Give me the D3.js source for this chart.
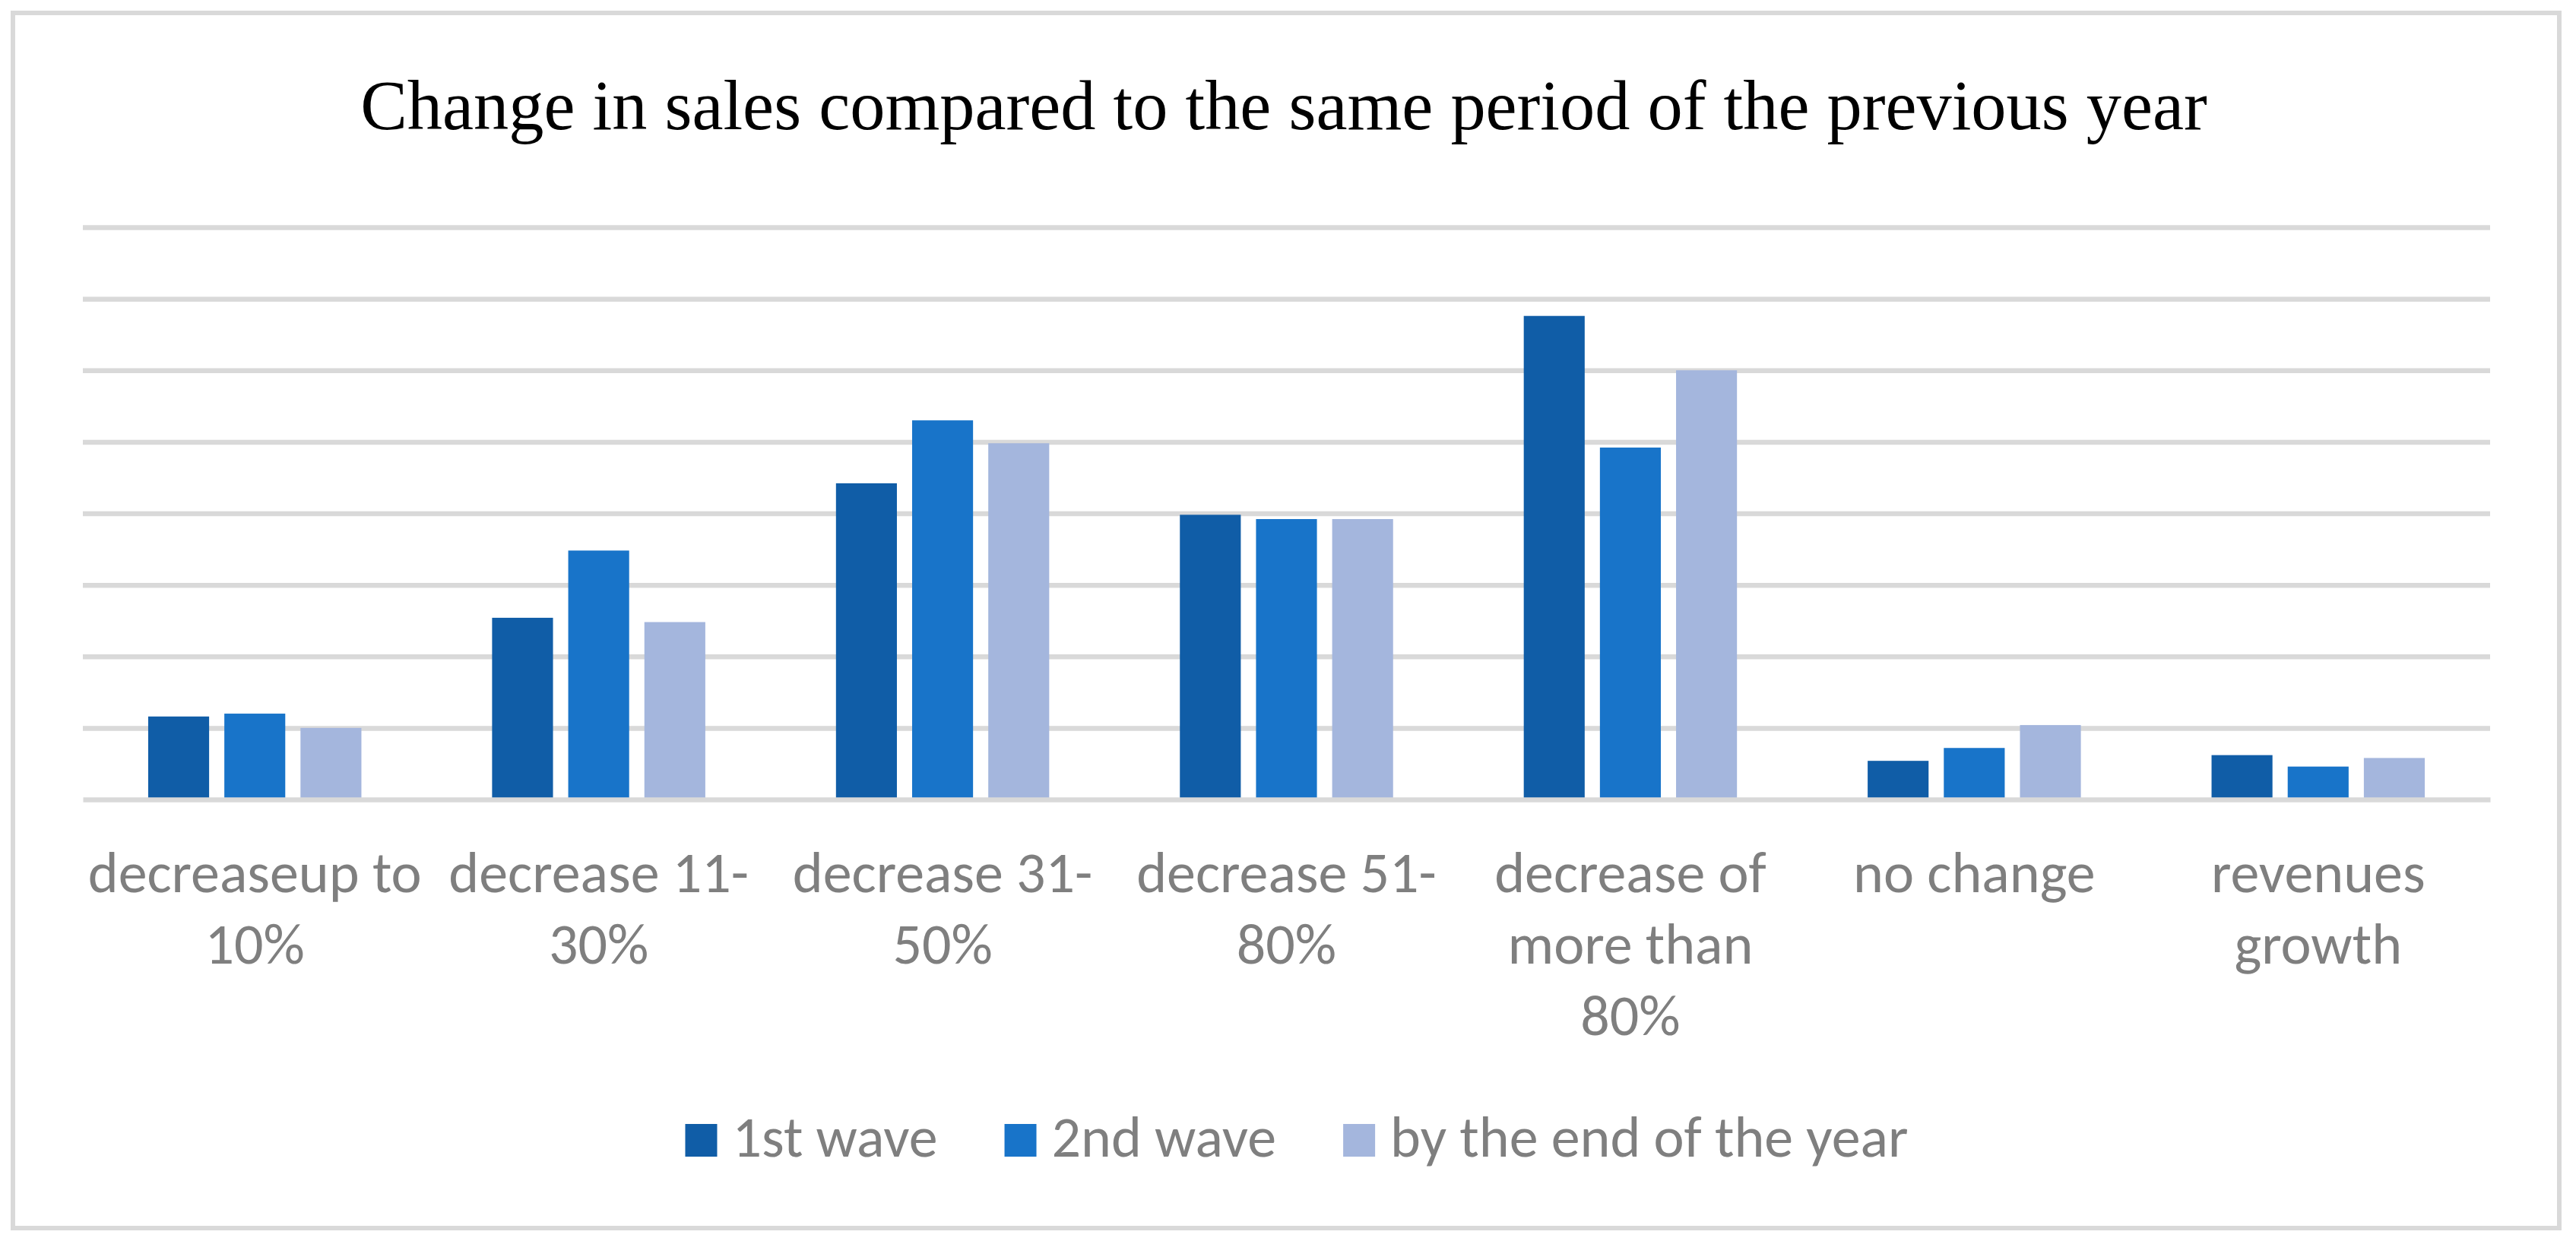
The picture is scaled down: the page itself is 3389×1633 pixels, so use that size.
<!DOCTYPE html>
<html>
<head>
<meta charset="utf-8">
<script src="https://cdn.jsdelivr.net/npm/d3@7"></script>
<style>
  body { margin: 0; background: #fff; }
  svg { display: block; }
</style>
</head>
<body>
<svg id="chart"></svg>
<script>
const width = 3389;
const height = 1633;

// data (share of respondents, %)
const categories = ["decreaseup to 10%", "decrease 11-30%", "decrease 31-50%", "decrease 51-80%",
  "decrease of more than 80%", "no change", "revenues growth"];
const labelLines = [
  ["decreaseup to", "10%"],
  ["decrease 11-", "30%"],
  ["decrease 31-", "50%"],
  ["decrease 51-", "80%"],
  ["decrease of", "more than", "80%"],
  ["no change"],
  ["revenues", "growth"]
];
const seriesNames = ["1st wave", "2nd wave", "by the end of the year"];
const wave1 = [5.8, 12.7, 22.1, 19.9, 33.8, 2.7, 3.1];
const wave2 = [6.0, 17.4, 26.5, 19.6, 24.6, 3.6, 2.3];
const yearEnd = [5.0, 12.4, 24.9, 19.6, 30.0, 5.2, 2.9];
const yTicks = [0, 5, 10, 15, 20, 25, 30, 35, 40];
const colors = ["#105da7", "#1874c9", "#a4b6dd"];

const seriesValues = [wave1, wave2, yearEnd];
const rows = categories.map((c, i) => ({
  cat: c,
  values: seriesNames.map((s, j) => ({ key: s, value: seriesValues[j][i] }))
}));

const svg = d3.select("#chart")
  .attr("width", width)
  .attr("height", height);

const plot = { left: 109, right: 3276, top: 299, bottom: 1052 };

// frame
svg.append("rect")
  .attr("x", 17).attr("y", 17)
  .attr("width", 3350).attr("height", 1599)
  .attr("fill", "#fff")
  .attr("stroke", "#d9d9d9")
  .attr("stroke-width", 6);

// title
const title = svg.append("text")
  .attr("x", 1689)
  .attr("y", 170)
  .attr("text-anchor", "middle")
  .attr("font-family", "'Palatino Linotype', 'Book Antiqua', Palatino, 'Liberation Serif', serif")
  .attr("font-size", 84)
  .attr("fill", "#000")
  .text("Change in sales compared to the same period of the previous year");
const tw = title.node().getComputedTextLength();
title.attr("font-size", 84 * 2430 / tw);

const x0 = d3.scaleBand()
  .domain(categories)
  .range([plot.left, plot.right])
  .paddingInner(0.38)
  .paddingOuter(0.19);

const x1 = d3.scaleBand()
  .domain(seriesNames)
  .range([0, x0.bandwidth()])
  .paddingInner(0.2);

const y = d3.scaleLinear()
  .domain([0, 40])
  .range([plot.bottom, plot.top]);

const color = d3.scaleOrdinal().domain(seriesNames).range(colors);

// GRIDLINES
const grid = svg.append("g")
  .attr("transform", `translate(${plot.left},0)`)
  .call(d3.axisLeft(y)
    .tickValues(yTicks.slice(1))
    .tickSize(-(plot.right - plot.left))
    .tickFormat(""));
grid.select(".domain").remove();
grid.selectAll("line")
  .attr("stroke", "#d9d9d9")
  .attr("stroke-width", 6.5);

// BARS
svg.append("g")
  .selectAll("g")
  .data(rows)
  .join("g")
  .attr("transform", d => `translate(${x0(d.cat)},0)`)
  .selectAll("rect")
  .data(d => d.values)
  .join("rect")
  .attr("x", d => x1(d.key))
  .attr("y", d => y(d.value))
  .attr("width", x1.bandwidth())
  .attr("height", d => y(0) - y(d.value))
  .attr("fill", d => color(d.key));

// X AXIS
const xAxis = svg.append("g")
  .attr("transform", `translate(0,${y(0)})`)
  .call(d3.axisBottom(x0).tickSize(0).tickFormat(""));
xAxis.select(".domain")
  .attr("stroke", "#d9d9d9")
  .attr("stroke-width", 6.5);

const labelFont = "Carlito, Calibri, Lato, sans-serif";
const labelSize = 76;

xAxis.selectAll(".tick").each(function(d, i) {
  const t = d3.select(this).append("text")
    .attr("text-anchor", "middle")
    .attr("font-family", labelFont)
    .attr("font-size", labelSize)
    .attr("fill", "#7f7f7f");
  labelLines[i].forEach((line, k) => {
    t.append("tspan")
      .attr("x", 0)
      .attr("y", 122 + k * 94)
      .text(line);
  });
});

// LEGEND
const legend = svg.append("g");
const items = legend.selectAll("g")
  .data(seriesNames)
  .join("g");
items.append("rect")
  .attr("y", 1479)
  .attr("width", 42)
  .attr("height", 43)
  .attr("fill", d => color(d));
items.append("text")
  .attr("x", 62)
  .attr("y", 1522)
  .attr("font-family", labelFont)
  .attr("font-size", labelSize)
  .attr("fill", "#7f7f7f")
  .text(d => d);

const widths = [];
items.each(function() {
  const w = d3.select(this).select("text").node().getComputedTextLength();
  widths.push(62 + w);
});
const gap = 88;
const total = d3.sum(widths) + gap * (widths.length - 1);
let start = 1706 - total / 2;
items.attr("transform", (d, i) => {
  const tx = start;
  start += widths[i] + gap;
  return `translate(${tx},0)`;
});
</script>
</body>
</html>
